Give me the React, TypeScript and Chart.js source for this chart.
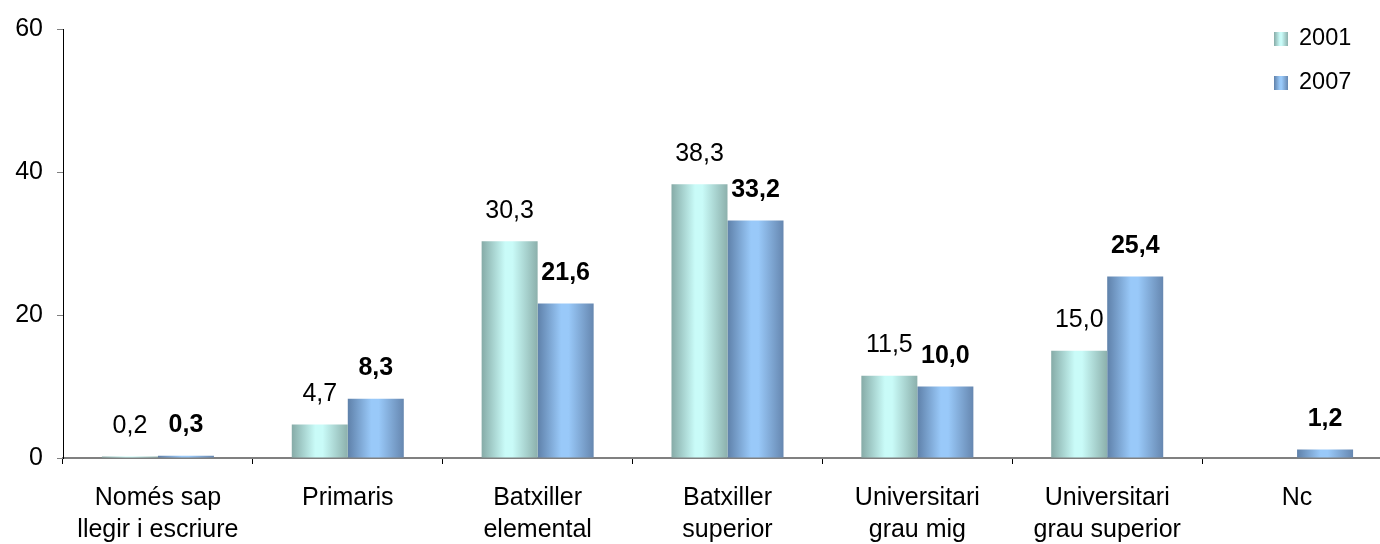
import React, { useEffect, useRef } from "react";
import { Chart, registerables } from "chart.js";

Chart.register(...registerables);

// Education level categories (two-line labels where the text wraps)
const categories: (string | string[])[] = [
  ["Només sap", "llegir i escriure"],
  "Primaris",
  ["Batxiller", "elemental"],
  ["Batxiller", "superior"],
  ["Universitari", "grau mig"],
  ["Universitari", "grau superior"],
  "Nc",
];

const seriesNames = ["2001", "2007"];
const values2001: (number | null)[] = [0.2, 4.7, 30.3, 38.3, 11.5, 15.0, null];
const values2007: (number | null)[] = [0.3, 8.3, 21.6, 33.2, 10.0, 25.4, 1.2];
const yTicks = [0, 20, 40, 60];

const FONT_FAMILY = "'Liberation Sans', Arial, Helvetica, sans-serif";
const FONT_SIZE = 25;
const LEGEND_FONT_SIZE = 23.5;
const CAT_PCT = 0.59;

// Cylinder-like shading: dark edges, bright middle
const shades = [
  { edgeL: "#86aba7", mid: "#c9fbf8", edgeR: "#8cb0ac" },
  { edgeL: "#5f81aa", mid: "#99c9f9", edgeR: "#6687b0" },
];

function makeGradient(c: CanvasRenderingContext2D, left: number, width: number, s: number) {
  const sh = shades[s];
  const g = c.createLinearGradient(left, 0, left + width, 0);
  g.addColorStop(0, sh.edgeL);
  g.addColorStop(0.42, sh.mid);
  g.addColorStop(0.55, sh.mid);
  g.addColorStop(1, sh.edgeR);
  return g;
}

function barFill(ctx: any) {
  const chart = ctx.chart;
  const xs = chart.scales?.x;
  if (!xs || ctx.type !== "data" || !xs.width) return shades[ctx.datasetIndex ?? 0].mid;
  const center = xs.getPixelForValue(ctx.dataIndex);
  const catW = xs.width / categories.length;
  const bw = (catW * CAT_PCT) / 2;
  const left = ctx.datasetIndex === 0 ? center - bw : center;
  return makeGradient(chart.ctx, left, bw, ctx.datasetIndex);
}

const fmt = (v: number) => v.toFixed(1).replace(".", ",");

// Value labels above each bar; the 2007 series is written in bold
const valueLabels = {
  id: "valueLabels",
  afterDatasetsDraw(chart: any) {
    const c = chart.ctx as CanvasRenderingContext2D;
    c.save();
    c.fillStyle = "#000";
    c.textAlign = "center";
    c.textBaseline = "alphabetic";
    chart.data.datasets.forEach((ds: any, di: number) => {
      const meta = chart.getDatasetMeta(di);
      c.font = `${di === 1 ? "bold " : ""}${FONT_SIZE}px ${FONT_FAMILY}`;
      meta.data.forEach((el: any, i: number) => {
        const v = ds.data[i];
        if (v === null || v === undefined) return;
        c.fillText(fmt(v), el.x, el.y - 23.5);
      });
    });
    c.restore();
  },
};

// Legend in the upper right corner
const cornerLegend = {
  id: "cornerLegend",
  afterDraw(chart: any) {
    const c = chart.ctx as CanvasRenderingContext2D;
    c.save();
    c.font = `${LEGEND_FONT_SIZE}px ${FONT_FAMILY}`;
    c.textAlign = "left";
    c.textBaseline = "alphabetic";
    seriesNames.forEach((name, i) => {
      const base = 45 + i * 44;
      const x0 = 1274;
      c.fillStyle = makeGradient(c, x0, 14, i);
      c.fillRect(x0, base - 13, 14, 14);
      c.fillStyle = "#000";
      c.fillText(name, 1299, base);
    });
    c.restore();
  },
};

export default function App() {
  const canvasRef = useRef<HTMLCanvasElement | null>(null);

  useEffect(() => {
    if (!canvasRef.current) return;
    const chart = new Chart(canvasRef.current, {
      type: "bar",
      data: {
        labels: categories as any,
        datasets: [
          {
            label: seriesNames[0],
            data: values2001,
            backgroundColor: barFill,
            borderWidth: 0,
            categoryPercentage: CAT_PCT,
            barPercentage: 1,
          },
          {
            label: seriesNames[1],
            data: values2007,
            backgroundColor: barFill,
            borderWidth: 0,
            categoryPercentage: CAT_PCT,
            barPercentage: 1,
          },
        ],
      },
      options: {
        animation: false,
        responsive: true,
        maintainAspectRatio: false,
        layout: { padding: { top: 27, right: 8, left: 0, bottom: 0 } },
        plugins: {
          legend: { display: false },
          tooltip: { enabled: false },
        },
        scales: {
          x: {
            z: 1,
            offset: true,
            afterFit(scale: any) {
              scale.height = 86;
            },
            border: { display: true, color: "#808080", width: 2 },
            grid: {
              display: true,
              offset: true,
              drawOnChartArea: false,
              drawTicks: true,
              tickLength: 6,
              color: "#000",
              lineWidth: 1,
            },
            ticks: {
              color: "#000",
              padding: 18,
              maxRotation: 0,
              autoSkip: false,
              font: { family: FONT_FAMILY, size: FONT_SIZE, lineHeight: 32 / FONT_SIZE },
            },
          },
          y: {
            min: yTicks[0],
            max: yTicks[yTicks.length - 1],
            afterFit(scale: any) {
              scale.width = 63;
            },
            afterBuildTicks(scale: any) {
              scale.ticks = yTicks.map((v) => ({ value: v }));
            },
            border: { display: true, color: "#000", width: 1 },
            grid: {
              display: true,
              drawOnChartArea: false,
              drawTicks: true,
              tickLength: 6,
              color: "#808080",
              lineWidth: 1,
            },
            ticks: {
              color: "#000",
              padding: 14,
              font: { family: FONT_FAMILY, size: FONT_SIZE },
            },
          },
        },
      },
      plugins: [valueLabels, cornerLegend],
    });
    return () => chart.destroy();
  }, []);

  return (
    <div
      style={{
        position: "fixed",
        left: 0,
        top: 0,
        width: 1380,
        height: 544,
        overflow: "hidden",
        background: "#fff",
      }}
    >
      <div style={{ position: "relative", width: 1400, height: 544 }}>
        <canvas ref={canvasRef} />
      </div>
    </div>
  );
}
